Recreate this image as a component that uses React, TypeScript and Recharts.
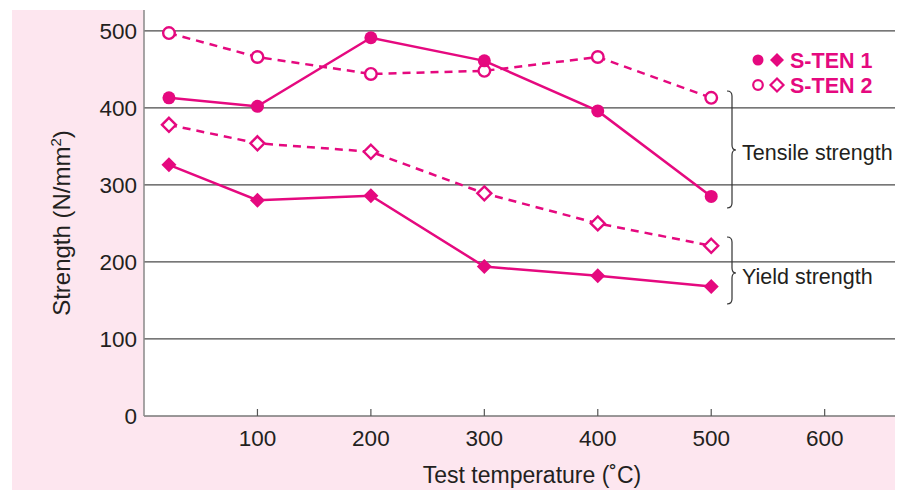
import React from 'react'
import { LineChart, Line, XAxis, YAxis, CartesianGrid } from 'recharts'

// test temperature (°C) and strengths (N/mm2)
const temps = [22, 100, 200, 300, 400, 500]
const tensileSten1 = [413, 402, 491, 461, 396, 285]
const tensileSten2 = [497, 466, 444, 448, 466, 413]
const yieldSten1 = [326, 280, 286, 194, 182, 168]
const yieldSten2 = [378, 354, 343, 289, 250, 221]

const xTicks = [100, 200, 300, 400, 500, 600]
const yTicks = [0, 100, 200, 300, 400, 500]
const gridValues = [100, 200, 300, 400, 500]

const data = temps.map((t, i) => ({
  temp: t,
  tensile1: tensileSten1[i],
  tensile2: tensileSten2[i],
  yield1: yieldSten1[i],
  yield2: yieldSten2[i]
}))

const MAGENTA = '#e5097f'
const TEXT = '#231f20'
const FONT = '"Liberation Sans", Arial, Helvetica, sans-serif'

const circleDot = (filled: boolean) => (props: any) => {
  const { cx, cy, index } = props
  return (
    <circle
      key={`c-${index}`}
      cx={cx}
      cy={cy}
      r={filled ? 6.5 : 5.8}
      fill={filled ? MAGENTA : '#fff'}
      stroke={MAGENTA}
      strokeWidth={filled ? 0 : 2.4}
    />
  )
}

const diamondDot = (filled: boolean) => (props: any) => {
  const { cx, cy, index } = props
  const s = filled ? 7.5 : 7
  return (
    <path
      key={`d-${index}`}
      d={`M${cx},${cy - s}L${cx + s},${cy}L${cx},${cy + s}L${cx - s},${cy}Z`}
      fill={filled ? MAGENTA : '#fff'}
      stroke={MAGENTA}
      strokeWidth={filled ? 0 : 2.4}
      strokeLinejoin="miter"
    />
  )
}

// x ticks point up into the plot, label below the axis
const XTick = (props: any) => {
  const { x, y, payload } = props
  return (
    <g>
      <line x1={x} x2={x} y1={y} y2={y - 7} stroke="#555" strokeWidth={1.2} />
      <text x={x} y={y + 30} textAnchor="middle" fontSize={22.5} fill={TEXT} fontFamily={FONT}>
        {payload.value}
      </text>
    </g>
  )
}

const brace = (x: number, top: number, mid: number, bottom: number) =>
  `M${x - 5},${top} Q${x},${top} ${x},${top + 5} L${x},${mid - 5} Q${x},${mid} ${x + 4},${mid} ` +
  `Q${x},${mid} ${x},${mid + 5} L${x},${bottom - 5} Q${x},${bottom} ${x - 5},${bottom}`

export default function App() {
  return (
    <div style={{ position: 'absolute', left: 0, top: 0, width: 907, height: 490, background: '#fff' }}>
      <div style={{ position: 'absolute', left: 12, top: 10, width: 883, height: 480, background: '#fde6ef' }} />
      <div style={{ position: 'absolute', left: 0, top: 0 }}>
        <LineChart width={907} height={490} data={data} margin={{ top: 10, right: 12, bottom: 0, left: 0 }}>
          <CartesianGrid vertical={false} horizontalValues={gridValues} stroke="#4a4a4a" strokeWidth={1.2} fill="#fff" />
          <XAxis
            dataKey="temp"
            type="number"
            domain={[0, 662]}
            ticks={xTicks}
            height={74}
            tickSize={0}
            tickMargin={0}
            tickLine={false}
            tick={<XTick />}
            axisLine={{ stroke: '#777', strokeWidth: 1.5 }}
          />
          <YAxis
            type="number"
            domain={[0, 527]}
            ticks={yTicks}
            interval={0}
            width={144}
            tickSize={0}
            tickMargin={7}
            tickLine={false}
            axisLine={{ stroke: '#888', strokeWidth: 1.5 }}
            tick={{ fontSize: 22.5, fill: TEXT, fontFamily: FONT }}
          />
          <Line dataKey="tensile2" stroke={MAGENTA} strokeWidth={2.5} strokeDasharray="8 6" dot={circleDot(false)} isAnimationActive={false} />
          <Line dataKey="tensile1" stroke={MAGENTA} strokeWidth={2.5} dot={circleDot(true)} isAnimationActive={false} />
          <Line dataKey="yield2" stroke={MAGENTA} strokeWidth={2.5} strokeDasharray="8 6" dot={diamondDot(false)} isAnimationActive={false} />
          <Line dataKey="yield1" stroke={MAGENTA} strokeWidth={2.5} dot={diamondDot(true)} isAnimationActive={false} />
        </LineChart>
      </div>
      <svg width={907} height={490} style={{ position: 'absolute', left: 0, top: 0, pointerEvents: 'none' }} fontFamily={FONT}>
        {/* legend */}
        <circle cx={758} cy={60} r={5.5} fill={MAGENTA} />
        <path d="M777,53L784,60L777,67L770,60Z" fill={MAGENTA} />
        <text x={790} y={67.5} fontSize={21.5} fontWeight="bold" fill={MAGENTA}>S-TEN 1</text>
        <circle cx={758} cy={85} r={4.8} fill="#fff" stroke={MAGENTA} strokeWidth={2.2} />
        <path d="M777,78.5L783.5,85L777,91.5L770.5,85Z" fill="#fff" stroke={MAGENTA} strokeWidth={2.2} />
        <text x={790} y={92.5} fontSize={21.5} fontWeight="bold" fill={MAGENTA}>S-TEN 2</text>

        {/* group braces */}
        <path d={brace(732, 91, 150, 208)} fill="none" stroke="#333" strokeWidth={1.2} />
        <text x={742} y={160} fontSize={21.5} fill={TEXT}>Tensile strength</text>
        <path d={brace(732, 237, 273, 304)} fill="none" stroke="#333" strokeWidth={1.2} />
        <text x={742} y={283.5} fontSize={21.5} fill={TEXT}>Yield strength</text>

        {/* axis titles */}
        <text x={532} y={483} textAnchor="middle" fontSize={23} fill={TEXT}>Test temperature (˚C)</text>
        <text x={70} y={223} textAnchor="middle" fontSize={24} fill={TEXT} transform="rotate(-90 70 223)">
          Strength (N/mm<tspan fontSize={15} dy={-9}>2</tspan><tspan dy={9}>)</tspan>
        </text>
      </svg>
    </div>
  )
}
